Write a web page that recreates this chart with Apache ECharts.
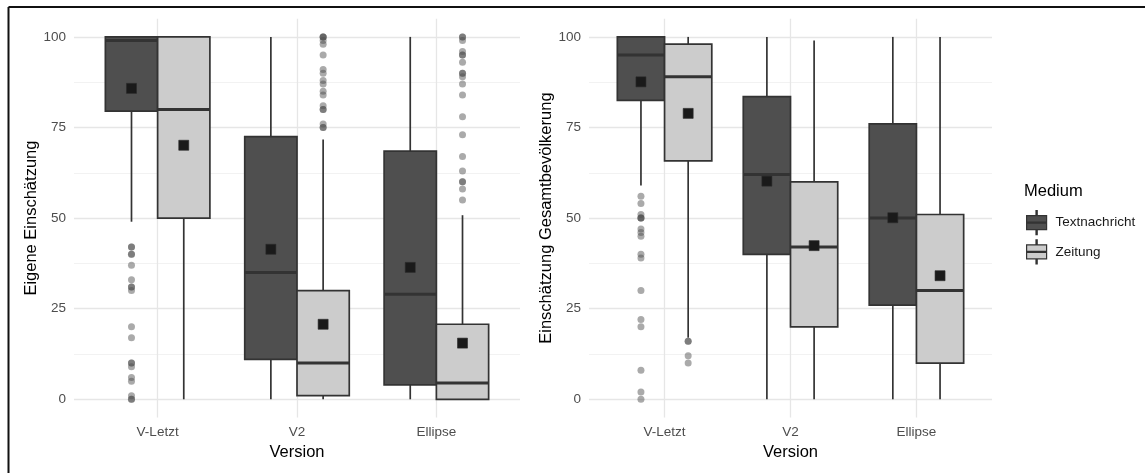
<!DOCTYPE html>
<html><head><meta charset="utf-8">
<script src="https://cdn.jsdelivr.net/npm/echarts@6/dist/echarts.min.js"></script>
<style>html,body{margin:0;padding:0;background:#fff}#c{width:1145px;height:473px}</style>
</head><body><div id="c"></div>
<script>
// ---------- data ----------
const categories = ['V-Letzt', 'V2', 'Ellipse'];
const yTicks = [0, 25, 50, 75, 100];
const yMinorGrid = [12.5, 37.5, 62.5, 87.5];
const media = ['Textnachricht', 'Zeitung'];

// Left panel: Eigene Einschätzung
const eigTextMin  = [49, 0, 0];
const eigTextQ1   = [79.5, 11, 4];
const eigTextMed  = [99, 35, 29];
const eigTextQ3   = [100, 72.5, 68.5];
const eigTextMax  = [100, 100, 100];
const eigTextMean = [85.8, 41.4, 36.4];
const eigTextOut  = [[42, 42, 40, 40, 37, 33, 31, 31, 30, 20, 17, 10, 10, 9, 6, 5, 1, 0, 0], [], []];

const eigZeitMin  = [0, 0, 0];
const eigZeitQ1   = [50, 1, 0];
const eigZeitMed  = [80, 10, 4.5];
const eigZeitQ3   = [100, 30, 20.7];
const eigZeitMax  = [100, 71.7, 50.8];
const eigZeitMean = [70.1, 20.7, 15.5];
const eigZeitOut  = [[],
  [100, 100, 100, 99, 98, 95, 91, 90, 88, 87, 85, 84, 81, 80, 80, 76, 75, 75],
  [100, 100, 99, 96, 95, 95, 93, 90, 90, 89, 87, 84, 78, 73, 67, 63, 60, 60, 58, 55]];

// Right panel: Einschätzung Gesamtbevölkerung
const gesTextMin  = [59, 0, 0];
const gesTextQ1   = [82.5, 40, 26];
const gesTextMed  = [95, 62, 50];
const gesTextQ3   = [100, 83.5, 76];
const gesTextMax  = [100, 100, 100];
const gesTextMean = [87.6, 60.2, 50.1];
const gesTextOut  = [[56, 54, 51, 50, 50, 50, 47, 46, 45, 40, 39, 30, 22, 20, 8, 2, 0], [], []];

const gesZeitMin  = [17, 0, 0];
const gesZeitQ1   = [65.8, 20, 10];
const gesZeitMed  = [89, 42, 30];
const gesZeitQ3   = [98, 60, 51];
const gesZeitMax  = [100, 99, 100];
const gesZeitMean = [78.9, 42.4, 34.1];
const gesZeitOut  = [[16, 16, 12, 10], [], []];

// ---------- styling / layout ----------
const FONT = '"Liberation Sans", Arial, Helvetica, sans-serif';
const FILL = {Textnachricht: '#4f4f4f', Zeitung: '#cccccc'};
const OFFSET = {Textnachricht: -0.1875, Zeitung: 0.1875};
const BOX_W = 0.375;
const STROKE = '#333333';

function boxData(mn, q1, md, q3, mx, mean) {
  return categories.map((c, i) => [i, mn[i], q1[i], md[i], q3[i], mx[i], mean[i]]);
}
function outData(out, off) {
  const d = [];
  out.forEach((arr, i) => arr.forEach(v => d.push([i + off, v])));
  return d;
}
function makeRender(off, fill) {
  return function (params, api) {
    const x = api.value(0) + off;
    const w = api.size([BOX_W, 0])[0];
    const pMin = api.coord([x, api.value(1)]);
    const pQ1 = api.coord([x, api.value(2)]);
    const pMed = api.coord([x, api.value(3)]);
    const pQ3 = api.coord([x, api.value(4)]);
    const pMax = api.coord([x, api.value(5)]);
    const pMean = api.coord([x, api.value(6)]);
    const cx = pMed[0];
    return {
      type: 'group',
      children: [
        {type: 'line', shape: {x1: cx, y1: pMax[1], x2: cx, y2: pQ3[1]}, style: {stroke: STROKE, lineWidth: 1.7}},
        {type: 'line', shape: {x1: cx, y1: pQ1[1], x2: cx, y2: pMin[1]}, style: {stroke: STROKE, lineWidth: 1.7}},
        {type: 'rect', shape: {x: cx - w / 2, y: pQ3[1], width: w, height: pQ1[1] - pQ3[1]},
          style: {fill: fill, stroke: STROKE, lineWidth: 1.7}},
        {type: 'line', shape: {x1: cx - w / 2, y1: pMed[1], x2: cx + w / 2, y2: pMed[1]},
          style: {stroke: STROKE, lineWidth: 3}},
        {type: 'rect', shape: {x: cx - 5, y: pMean[1] - 5, width: 10, height: 10},
          style: {fill: '#1a1a1a', stroke: '#2a2a2a', lineWidth: 0.6}}
      ]
    };
  };
}
function gridLines(idx) {
  const major = {color: '#e6e6e6', width: 1.3, type: 'solid'};
  const minor = {color: '#efefef', width: 0.8, type: 'solid'};
  const data = [];
  yTicks.forEach(v => data.push({yAxis: v, lineStyle: major}));
  yMinorGrid.forEach(v => data.push({yAxis: v, lineStyle: minor}));
  categories.forEach((c, i) => data.push({xAxis: i, lineStyle: major}));
  return {
    type: 'line', name: 'grid' + idx, xAxisIndex: idx, yAxisIndex: idx, data: [],
    markLine: {silent: true, symbol: ['none', 'none'], label: {show: false}, z: 0,
      animation: false, data: data}
  };
}
function boxSeries(idx, name, d) {
  return {
    type: 'custom', name: name, xAxisIndex: idx, yAxisIndex: idx, z: 3,
    itemStyle: {color: FILL[name]},
    renderItem: makeRender(OFFSET[name], FILL[name]),
    data: d
  };
}
function outSeries(idx, name, out) {
  return {
    type: 'scatter', name: name + ' outliers', xAxisIndex: idx, yAxisIndex: idx, z: 4,
    symbol: 'circle', symbolSize: 7,
    itemStyle: {color: '#4d4d4d', opacity: 0.48},
    data: outData(out, OFFSET[name])
  };
}
function xAxis(idx) {
  return {
    type: 'value', gridIndex: idx, min: -0.6, max: 2.6,
    axisLine: {show: false}, axisTick: {show: false}, splitLine: {show: false},
    axisLabel: {customValues: [0, 1, 2], formatter: v => categories[Math.round(v)] || '',
      color: '#4d4d4d', fontSize: 13.5, fontFamily: FONT, margin: 8},
    name: 'Version', nameLocation: 'middle', nameGap: 25,
    nameTextStyle: {color: '#000', fontSize: 16.5, fontFamily: FONT}
  };
}
function yAxis(idx, title) {
  return {
    type: 'value', gridIndex: idx, min: -5, max: 105,
    axisLine: {show: false}, axisTick: {show: false}, splitLine: {show: false},
    axisLabel: {customValues: yTicks, color: '#4d4d4d', fontSize: 13.5, fontFamily: FONT, margin: 8},
    name: title, nameLocation: 'middle', nameGap: 34,
    nameTextStyle: {color: '#000', fontSize: 16.5, fontFamily: FONT}
  };
}

const legendIcon = 'path://M10.4,0 H11.6 V5 H10.4 Z M1,5 H21 V19 H1 Z M1,11.5 H21 V12.5 H1 Z M10.4,19 H11.6 V24 H10.4 Z';

const option = {
  animation: false,
  backgroundColor: '#ffffff',
  textStyle: {fontFamily: FONT},
  grid: [
    {left: 74, top: 18.8, width: 446, height: 398.6},
    {left: 589, top: 18.8, width: 403, height: 398.6}
  ],
  xAxis: [xAxis(0), xAxis(1)],
  yAxis: [yAxis(0, 'Eigene Einschätzung'), yAxis(1, 'Einschätzung Gesamtbevölkerung')],
  title: {text: 'Medium', left: 1019, top: 178,
    textStyle: {fontSize: 16.5, fontWeight: 'normal', color: '#000', fontFamily: FONT}},
  legend: {
    orient: 'vertical', left: 1021, top: 205, itemWidth: 22, itemHeight: 24, itemGap: 4,
    icon: legendIcon, data: media, selectedMode: false,
    itemStyle: {borderColor: '#333', borderWidth: 1.2},
    textStyle: {fontSize: 13.5, color: '#1a1a1a', fontFamily: FONT, padding: [0, 0, 0, 3]}
  },
  graphic: [
    {type: 'line', shape: {x1: 8.5, y1: 7, x2: 1145, y2: 7}, style: {stroke: '#111', lineWidth: 2}, silent: true},
    {type: 'line', shape: {x1: 8.5, y1: 7, x2: 8.5, y2: 473}, style: {stroke: '#111', lineWidth: 2}, silent: true}
  ],
  series: [
    gridLines(0), gridLines(1),
    boxSeries(0, 'Textnachricht', boxData(eigTextMin, eigTextQ1, eigTextMed, eigTextQ3, eigTextMax, eigTextMean)),
    boxSeries(0, 'Zeitung', boxData(eigZeitMin, eigZeitQ1, eigZeitMed, eigZeitQ3, eigZeitMax, eigZeitMean)),
    boxSeries(1, 'Textnachricht', boxData(gesTextMin, gesTextQ1, gesTextMed, gesTextQ3, gesTextMax, gesTextMean)),
    boxSeries(1, 'Zeitung', boxData(gesZeitMin, gesZeitQ1, gesZeitMed, gesZeitQ3, gesZeitMax, gesZeitMean)),
    outSeries(0, 'Textnachricht', eigTextOut),
    outSeries(0, 'Zeitung', eigZeitOut),
    outSeries(1, 'Textnachricht', gesTextOut),
    outSeries(1, 'Zeitung', gesZeitOut)
  ]
};
const chart = echarts.init(document.getElementById('c'), null, {renderer: 'canvas'});
chart.setOption(option);
</script></body></html>
